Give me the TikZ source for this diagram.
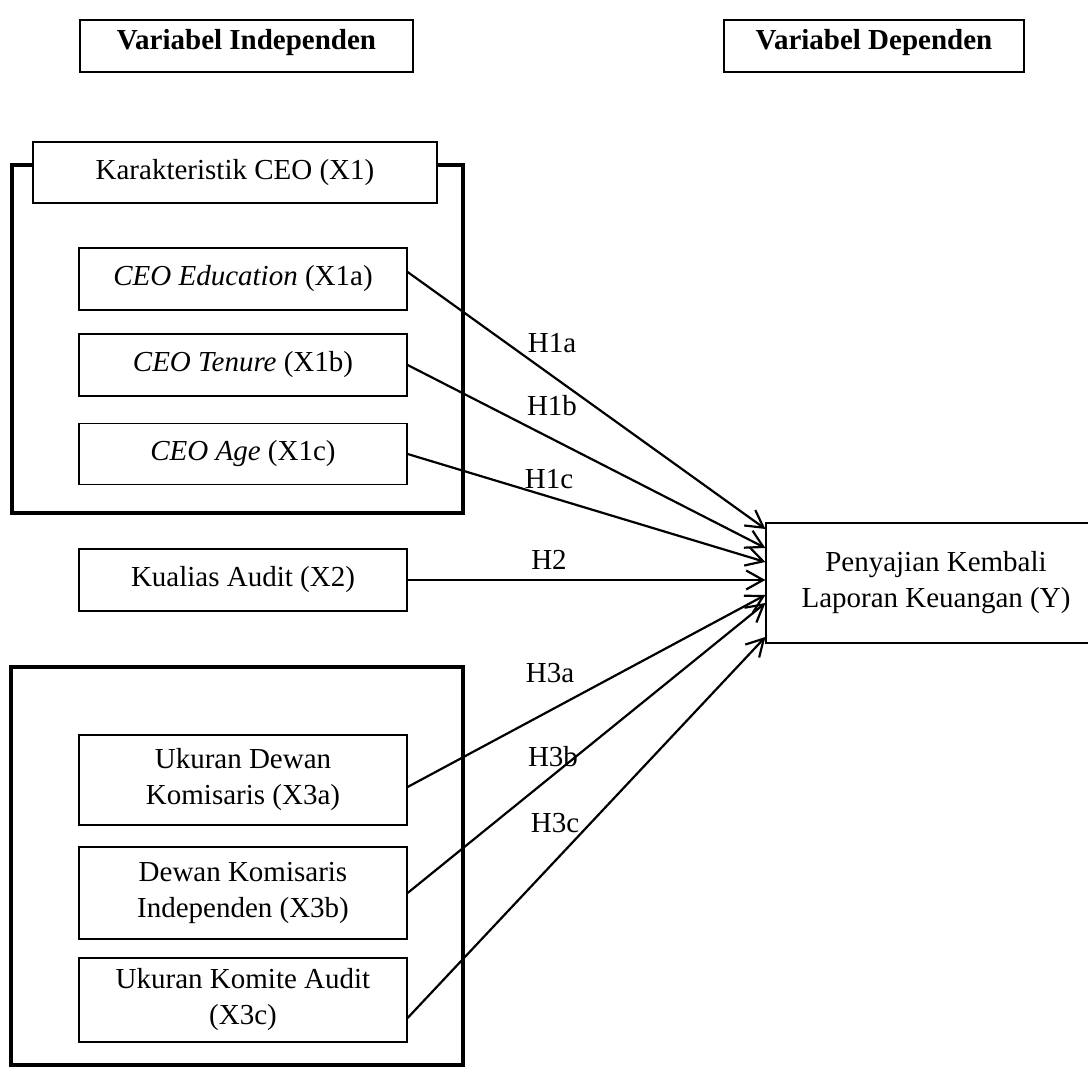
\documentclass[tikz,border=0pt]{standalone}
\usepackage{fontspec}
\setmainfont{Liberation Serif}
\usepackage{tikz}
\usetikzlibrary{arrows.meta,positioning}

\begin{document}
\begin{tikzpicture}[x=0.5pt,y=-0.5pt,
    font=\fontsize{14.5}{18}\selectfont,
    varbox/.style={draw,line width=0.6pt,minimum width=164pt,minimum height=31pt,align=center,inner sep=2pt},
    headbox/.style={varbox,minimum height=26pt,text depth=7pt,font=\fontsize{14.5}{18}\selectfont\bfseries},
    group/.style={line width=2.4pt},
    hyp/.style={line width=1.1pt,-{Straight Barb[length=8.5pt,width=9.5pt]}},
    hlabel/.style={inner sep=0pt}]
    \useasboundingbox (0,0) rectangle (1088,1068);
    \node[headbox,minimum width=166.5pt] (vind) at (246.5,46) {Variabel Independen};
    \node[headbox,minimum width=150pt] (vdep) at (874,46) {Variabel Dependen};
    \draw[group] (12,165) rectangle (463,513);
    \node[varbox,fill=white,minimum width=202pt,minimum height=30.5pt] (x1) at (235,172.5) {Karakteristik CEO (X1)};
    \node[varbox] (x1a) at (243,279) {\textit{CEO Education} (X1a)};
    \node[varbox] (x1b) at (243,365) {\textit{CEO Tenure} (X1b)};
    \node[varbox,minimum height=30.5pt] (x1c) at (243,454) {\textit{CEO Age} (X1c)};
    \node[varbox] (x2) at (243,580) {Kualias Audit (X2)};
    \draw[group] (11,667) rectangle (463,1065);
    \node[varbox,minimum height=45pt] (x3a) at (243,780) {Ukuran Dewan\\Komisaris (X3a)};
    \node[varbox,minimum height=46pt] (x3b) at (243,893) {Dewan Komisaris\\Independen (X3b)};
    \node[varbox,minimum height=42pt] (x3c) at (243,1000) {Ukuran Komite Audit\\(X3c)};
    \node[varbox,minimum width=170pt,minimum height=60pt] (y) at (936,583) {Penyajian Kembali\\Laporan Keuangan (Y)};
    \draw[hyp] ([yshift=3.5pt]x1a.east) -- ([yshift=27pt]y.west);
    \draw[hyp] (x1b.east) -- ([yshift=17.5pt]y.west);
    \draw[hyp] (x1c.east) -- ([yshift=10.5pt]y.west);
    \draw[hyp] (x2.east) -- (x2.east -| y.west);
    \draw[hyp] ([yshift=-3.5pt]x3a.east) -- ([yshift=-6pt]y.west);
    \draw[hyp] (x3b.east) -- ([yshift=-10pt]y.west);
    \draw[hyp] ([yshift=-9pt]x3c.east) -- ([yshift=-27pt]y.west);
    \node[hlabel] (h1a) at (552,343) {H1a};
    \node[hlabel] (h1b) at (552,406) {H1b};
    \node[hlabel] (h1c) at (549,479) {H1c};
    \node[hlabel] (h2) at (549,560) {H2};
    \node[hlabel] (h3a) at (550,673) {H3a};
    \node[hlabel] (h3b) at (553,757) {H3b};
    \node[hlabel] (h3c) at (555,823) {H3c};
\end{tikzpicture}
\end{document}
